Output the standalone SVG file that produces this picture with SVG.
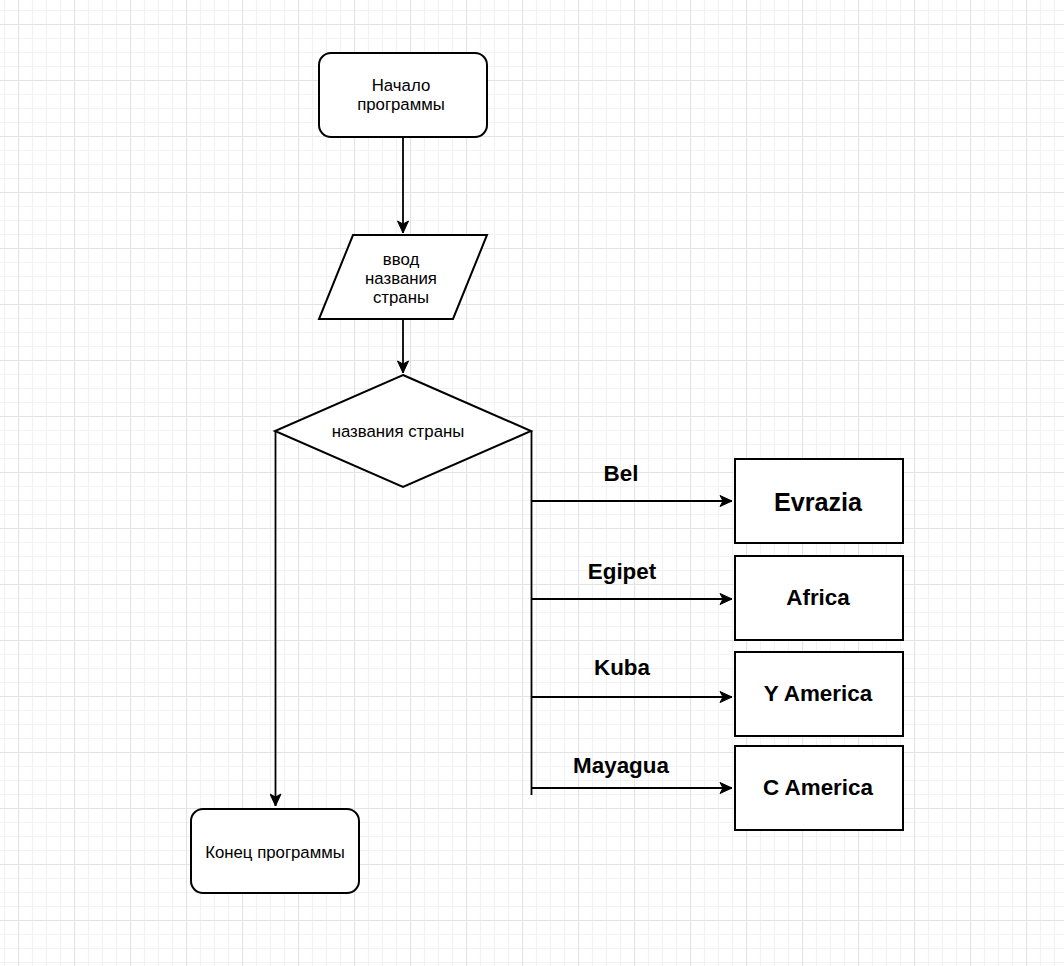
<svg xmlns="http://www.w3.org/2000/svg" width="1064" height="966" viewBox="0 0 1064 966">
  <defs>
    <pattern id="grid" patternUnits="userSpaceOnUse" x="18" y="24" width="56" height="56">
      <path d="M14.5 0V56M28.5 0V56M42.5 0V56M0 14.5H56M0 28.5H56M0 42.5H56" stroke="#f2f2f2" stroke-width="1.2" fill="none"/>
      <path d="M0.5 0V56M0 0.5H56" stroke="#e3e3e3" stroke-width="1.2" fill="none"/>
    </pattern>
    <marker id="arrow" markerUnits="userSpaceOnUse" markerWidth="14" markerHeight="12" viewBox="-13 -6 14 12" refX="0" refY="0" orient="auto">
      <path d="M-12 -5.5L0 0L-12 5.5L-9 0Z" fill="#000" stroke="#000" stroke-width="1"/>
    </marker>
    <style>
      .shape { fill: #fff; stroke: #000; stroke-width: 2; }
      .edge { fill: none; stroke: #000; stroke-width: 1.8; }
      .txt { font-family: "Liberation Sans", Arial, sans-serif; font-size: 16.8px; fill: #000; text-anchor: middle; dominant-baseline: central; }
      .big { font-family: "Liberation Sans", Arial, sans-serif; font-size: 22.4px; font-weight: bold; fill: #000; text-anchor: middle; dominant-baseline: central; }
    </style>
  </defs>

  <rect width="1064" height="966" fill="#fff"/>
  <rect width="1064" height="966" fill="url(#grid)"/>

  <!-- connectors -->
  <g id="connectors">
    <path class="edge" d="M403 137V233" marker-end="url(#arrow)"/>
    <path class="edge" d="M403 319V373" marker-end="url(#arrow)"/>
    <path class="edge" d="M275.5 431V806" marker-end="url(#arrow)"/>
    <path class="edge" d="M531.5 431V795"/>
    <path class="edge" d="M531.5 501H732" marker-end="url(#arrow)"/>
    <path class="edge" d="M531.5 599H732" marker-end="url(#arrow)"/>
    <path class="edge" d="M531.5 697H732" marker-end="url(#arrow)"/>
    <path class="edge" d="M531.5 788H732" marker-end="url(#arrow)"/>
    <text class="big" x="621" y="473">Bel</text>
    <text class="big" x="622" y="571">Egipet</text>
    <text class="big" x="622" y="667">Kuba</text>
    <text class="big" x="621" y="765">Mayagua</text>
  </g>

  <g id="start">
    <rect class="shape" x="319" y="53" width="168" height="84" rx="12"/>
    <text class="txt" x="401" y="85">Начало</text>
    <text class="txt" x="401" y="104">программы</text>
  </g>

  <g id="input">
    <path class="shape" d="M353 235H487L453 319H319Z"/>
    <text class="txt" x="401" y="259">ввод</text>
    <text class="txt" x="401" y="278">названия</text>
    <text class="txt" x="401" y="297">страны</text>
  </g>

  <g id="decision">
    <path class="shape" d="M403 375L531 431L403 487L275 431Z"/>
    <text class="txt" x="398" y="431">названия страны</text>
  </g>

  <g id="end">
    <rect class="shape" x="191" y="809" width="168" height="84" rx="12"/>
    <text class="txt" x="275" y="852">Конец программы</text>
  </g>

  <g id="evrazia">
    <rect class="shape" x="735" y="459" width="168" height="84"/>
    <text class="big" x="818" y="502" style="font-size:25.2px">Evrazia</text>
  </g>

  <g id="africa">
    <rect class="shape" x="735" y="556" width="168" height="84"/>
    <text class="big" x="818" y="597">Africa</text>
  </g>

  <g id="y-america">
    <rect class="shape" x="735" y="652" width="168" height="84"/>
    <text class="big" x="818" y="693">Y America</text>
  </g>

  <g id="c-america">
    <rect class="shape" x="735" y="746" width="168" height="84"/>
    <text class="big" x="818" y="787">C America</text>
  </g>
</svg>
